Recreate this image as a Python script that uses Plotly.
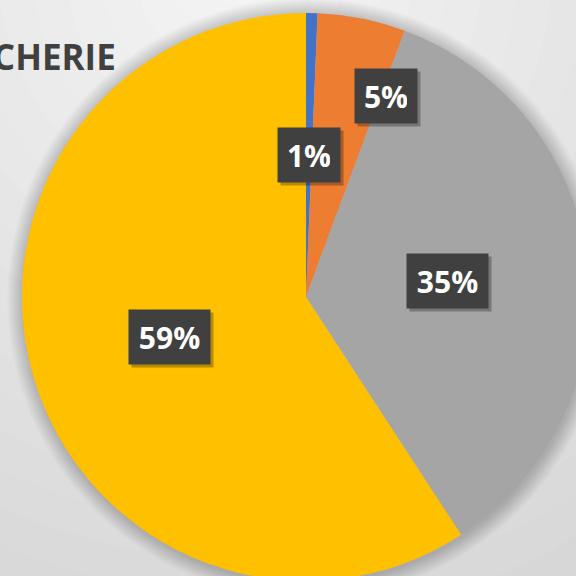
import math
import plotly.graph_objects as go

# ---- data ----
categories = ["Catégorie 1", "Catégorie 2", "Catégorie 3", "Catégorie 4"]
values = [0.65, 5.0, 35.15, 59.2]
colors = ["#4472C4", "#ED7D31", "#A5A5A5", "#FFC000"]
title_text = "BOUCHERIE"

# ---- layout / style ----
W = H = 600
CX, CY, R = 306, 297, 284          # pie centre / radius in pixels (from top-left)
label_r = [0.5, 0.76, 0.5, 0.5]     # label distance as fraction of radius
label_dtheta = [0, 10.3, 0, 0]      # label angular shift (deg)

dom_x = [(CX - R) / W, (CX + R) / W]
dom_y = [(H - CY - R) / H, (H - CY + R) / H]

fig = go.Figure(go.Pie(
    labels=categories, values=values, sort=False, direction="clockwise",
    rotation=0, textinfo="none", hoverinfo="label+percent",
    marker=dict(colors=colors, line=dict(width=0)),
    domain=dict(x=dom_x, y=dom_y), showlegend=False,
))

def px(x):
    return x / W

def py(y):
    return (H - y) / H

shapes = []
# radial background gradient
gc = (240, -30)
steps = 26
for i in range(steps):
    rr = 900 * (1 - i / steps)
    t = i / (steps - 1)
    c = int(0xCF + (0xF4 - 0xCF) * t)
    shapes.append(dict(type="circle", xref="paper", yref="paper", layer="below",
                       x0=px(gc[0] - rr), x1=px(gc[0] + rr),
                       y0=py(gc[1] + rr), y1=py(gc[1] - rr),
                       fillcolor=f"rgb({c},{c},{c})", line=dict(width=0)))
# soft shadow around the pie
for k in range(16, 0, -1):
    shapes.append(dict(type="circle", xref="paper", yref="paper", layer="below",
                       x0=px(CX - R - k + 1), x1=px(CX + R + k + 1),
                       y0=py(CY + R + k + 2), y1=py(CY - R - k + 1),
                       fillcolor="rgba(0,0,0,0.013)", line=dict(width=0)))

annotations = []
total = sum(values)
cum = 0
for i, v in enumerate(values):
    mid = 360 * (cum + v / 2) / total + label_dtheta[i]
    cum += v
    a = math.radians(mid)
    lx = CX + label_r[i] * R * math.sin(a)
    ly = CY - label_r[i] * R * math.cos(a)
    txt = f"{round(100 * v / total)}%"
    bw = len(txt) * 19 + 4
    common = dict(x=px(lx), y=py(ly), xref="paper", yref="paper", showarrow=False,
                  borderpad=10, width=bw, height=34, xanchor="center", yanchor="middle")
    annotations.append(dict(common, text="&nbsp;", bgcolor="rgba(0,0,0,0.28)",
                            xshift=3, yshift=-3,
                            font=dict(family="Open Sans", size=30, color="rgba(0,0,0,0)")))
    annotations.append(dict(common, bgcolor="#404040",
                            text=f"<b>{txt}</b>",
                            font=dict(family="Open Sans", size=30, color="white")))

annotations.append(dict(x=px(118), y=py(56), xref="paper", yref="paper", showarrow=False,
                        text=f"<b>{title_text}</b>", xanchor="right", yanchor="middle",
                        font=dict(family="Open Sans", size=35, color="#404040")))

fig.update_layout(
    width=W, height=H, margin=dict(l=0, r=0, t=0, b=0),
    paper_bgcolor="#cfcfcf", plot_bgcolor="#cfcfcf",
    shapes=shapes, annotations=annotations,
)

page_css = ("document.documentElement.style.overflow='hidden';"
            "document.body.style.margin='0';document.body.style.overflow='hidden';")
fig.write_html("out.html", post_script=page_css, config={"displayModeBar": False})
